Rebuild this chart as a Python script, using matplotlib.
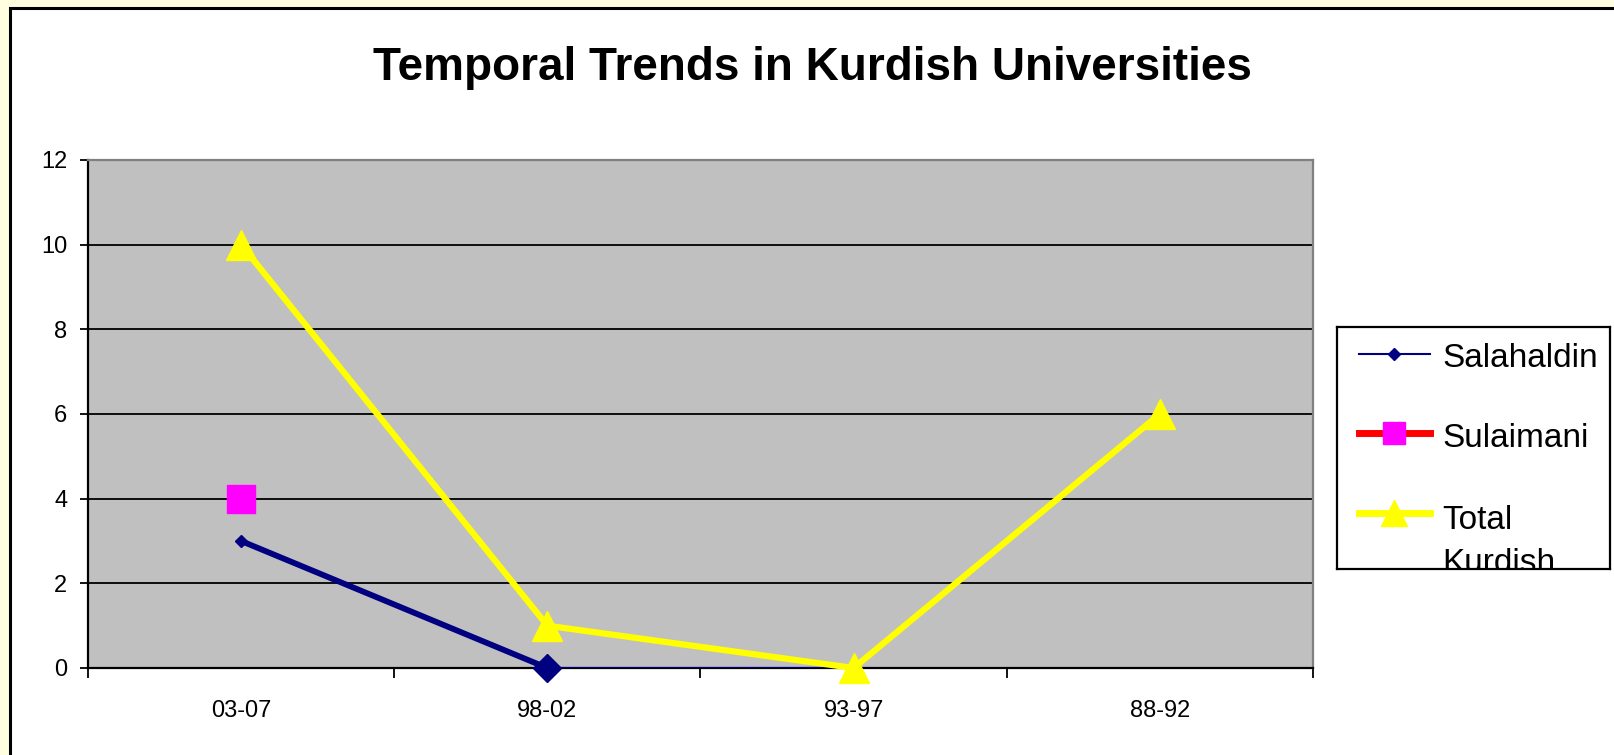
import matplotlib
matplotlib.use("Agg")
import matplotlib.pyplot as plt
from matplotlib.patches import Rectangle
import numpy as np

plt.rcParams['font.family'] = ['Liberation Sans', 'DejaVu Sans']

# ---- data ----
title = "Temporal Trends in Kurdish Universities"
categories = ["03-07", "98-02", "93-97", "88-92"]
series_names = ["Salahaldin", "Sulaimani", "Total Kurdish"]
salahaldin = [3, 0, 0, np.nan]
sulaimani = [4, np.nan, np.nan, np.nan]
total_kurdish = [10, 1, 0, 6]
y_ticks = [0, 2, 4, 6, 8, 10, 12]

W, H = 1615, 755
fig = plt.figure(figsize=(W / 100, H / 100), dpi=100)
fig.patch.set_facecolor("#FFFFE0")

# outer chart frame (cut by the image edge at right and bottom)
frame = Rectangle((10.5 / W, -0.1), 1.2, 1 - 8.0 / H + 0.1, transform=fig.transFigure,
                  facecolor="white", edgecolor="black", linewidth=2.2, zorder=-5)
fig.patches.append(frame)

ax = fig.add_axes([88 / W, 1 - 668 / H, (1313 - 88) / W, (668 - 160) / H])
ax.set_facecolor("#C0C0C0")
x = np.arange(len(categories))

# Salahaldin: thin line + small diamonds, thick first segment, large diamond at 98-02
ax.plot(x, salahaldin, color="#000080", lw=1.5, marker="D", ms=6.5, zorder=3)
ax.plot(x[:2], salahaldin[:2], color="#000080", lw=4.2, zorder=3)
ax.plot(x[1:2], salahaldin[1:2], color="#000080", lw=0, marker="D", ms=14, zorder=3,
        clip_on=False)
# Sulaimani
ax.plot(x, sulaimani, color="#FF0000", lw=5, marker="s", ms=20.5,
        markerfacecolor="#FF00FF", markeredgecolor="#FF00FF", zorder=4)
# Total Kurdish
ax.plot(x, total_kurdish, color="#FFFF00", lw=4.5, marker="^", ms=21,
        markerfacecolor="#FFFF00", markeredgecolor="#FFFF00", zorder=5, clip_on=False)

ax.set_xlim(-0.5, len(categories) - 0.5)
ax.set_ylim(0, 12)
ax.set_yticks(y_ticks)
ax.set_yticklabels([str(v) for v in y_ticks], fontsize=17)
ax.yaxis.grid(True, color="black", lw=1.3)
ax.set_axisbelow(True)
ax.tick_params(axis="y", direction="out", length=6, width=1.3, pad=9, colors="black")

ax.set_xticks(x)
ax.set_xticklabels(categories, fontsize=17)
ax.tick_params(axis="x", which="major", length=0, pad=23)
ax.set_xticks(np.arange(len(categories) + 1) - 0.5, minor=True)
ax.tick_params(axis="x", which="minor", direction="out", length=7, width=1.3)

for s in ["left", "bottom"]:
    ax.spines[s].set_color("black")
    ax.spines[s].set_linewidth(1.6)
for s in ["top", "right"]:
    ax.spines[s].set_color("#808080")
    ax.spines[s].set_linewidth(1.6)

fig.text(0.503, 1 - 80 / H, title, ha="center", va="baseline",
         fontsize=33, fontweight="bold")

# legend box (text clipped like the original)
lax = fig.add_axes([1337 / W, 1 - 569 / H, (1610 - 1337) / W, (569 - 327) / H])
lax.set_xlim(0, 1)
lax.set_ylim(0, 1)
lax.set_xticks([])
lax.set_yticks([])
for s in lax.spines.values():
    s.set_color("black")
    s.set_linewidth(1.6)
handle_y = [0.888, 0.562, 0.232]
text_baseline = [0.835, 0.504, -0.012]   # baseline of the last text line
styles = [
    dict(color="#000080", lw=1.5, marker="D", ms=6.5, mfc="#000080", mec="#000080"),
    dict(color="#FF0000", lw=5, marker="s", ms=16, mfc="#FF00FF", mec="#FF00FF"),
    dict(color="#FFFF00", lw=5, marker="^", ms=19, mfc="#FFFF00", mec="#FFFF00"),
]
for name, hy, ty, st in zip(series_names, handle_y, text_baseline, styles):
    lax.plot([0.08, 0.21, 0.34], [hy, hy, hy], markevery=[1], **st)
    t = lax.text(0.385, ty, name.replace(" ", "\n"), fontsize=24, va="baseline",
                 ha="left", linespacing=1.51, transform=lax.transAxes)
    t.set_clip_on(True)
    t.set_clip_box(lax.bbox)

fig.savefig("out.png", dpi=100, facecolor=fig.get_facecolor())
